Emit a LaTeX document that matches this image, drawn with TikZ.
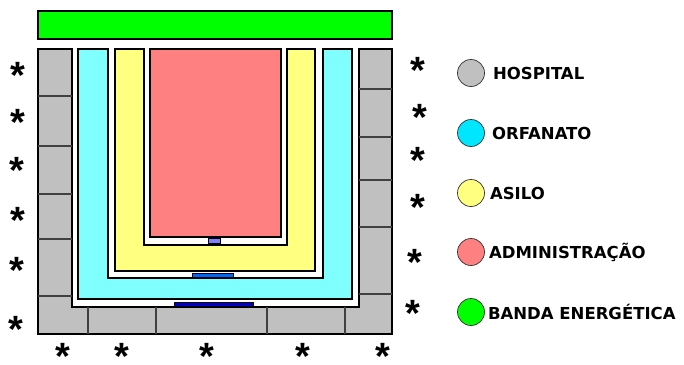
\documentclass[tikz,border=0pt]{standalone}
\usepackage{fontspec}
\newfontfamily\legfont{DejaVu Sans}
\newfontfamily\starfont{Liberation Sans}
\usetikzlibrary{positioning}
\definecolor{hospgray}{RGB}{192,192,192}
\definecolor{orfcyan}{RGB}{128,255,255}
\definecolor{dotcyan}{RGB}{0,230,255}
\definecolor{asiyellow}{RGB}{255,255,128}
\definecolor{admred}{RGB}{255,128,128}
\definecolor{bandgreen}{RGB}{0,255,0}
\definecolor{doorlav}{RGB}{128,128,255}
\definecolor{doormid}{RGB}{0,102,255}
\definecolor{doordark}{RGB}{0,0,204}
\tikzset{
  zone/.style={draw=black,line width=2.5pt,line join=miter},
  sep/.style={draw=black!75,line width=1.2pt},
  door/.style={draw=black,line width=0.8pt},
  legdot/.style={circle,draw=black!80,line width=0.7pt,minimum size=27pt,inner sep=0pt},
  leglabel/.style={font=\legfont\bfseries\fontsize{16.5}{18}\selectfont,inner sep=0pt,anchor=west},
  starmark/.style={font=\starfont\bfseries\fontsize{38}{38}\selectfont,inner sep=0pt,anchor=base}
}

\begin{document}
\begin{tikzpicture}[x=1pt,y=-1pt]
\useasboundingbox (0,0) rectangle (684,364);

% Energy band on top
\path[zone,fill=bandgreen] (38,11) rectangle (392,39);

% Hospital (outer U)
\path[zone,fill=hospgray] (38,49) -- (38,334) -- (392,334) -- (392,49) -- (359,49)
  -- (359,307) -- (72,307) -- (72,49) -- cycle;
\foreach \y in {96,146,194,239,296}
  \draw[sep] (38,\y) -- (72,\y);
\foreach \x in {88,156,267,345}
  \draw[sep] (\x,307) -- (\x,334);
\foreach \y in {89,137,180,227,294}
  \draw[sep] (359,\y) -- (392,\y);

% Orphanage
\path[zone,fill=orfcyan] (78,49) -- (78,299) -- (352,299) -- (352,49) -- (323,49)
  -- (323,278) -- (108,278) -- (108,49) -- cycle;

% Asylum
\path[zone,fill=asiyellow] (115,49) -- (115,271) -- (315,271) -- (315,49) -- (287,49)
  -- (287,245) -- (144,245) -- (144,49) -- cycle;

% Administration
\path[zone,fill=admred] (150,49) rectangle (281,237);

% Doors between the zones
\path[door,fill=doorlav] (208,238) rectangle (220,243);
\path[door,fill=doormid] (192,273) rectangle (233,277);
\path[door,fill=doordark] (174,302) rectangle (253,306);

% Stars round the plan
\foreach \x/\y [count=\i] in {18/73,18/120,17/168,18/218,17/268,16/327,
  63/354,122/354,207/354,303/354,383/354,
  418/68,420/115,418/158,418/205,415/260,413/311}
  \node[starmark] (star\i) at (\x,\y+15) {*};

% Legend
\node[legdot,fill=hospgray] (dothosp) at (471,73) {};
\node[legdot,fill=dotcyan] (dotorf) at (471,133) {};
\node[legdot,fill=asiyellow] (dotasi) at (471,193) {};
\node[legdot,fill=admred] (dotadm) at (471,252) {};
\node[legdot,fill=bandgreen] (dotband) at (471,312) {};

\node[leglabel,right=8pt of dothosp] (labhosp) {HOSPITAL};
\node[leglabel,right=7pt of dotorf] (laborf) {ORFANATO};
\node[leglabel,right=5pt of dotasi] (labasi) {ASILO};
\node[leglabel,right=4pt of dotadm] (labadm) {ADMINISTRAÇÃO};
\node[leglabel,right=3pt of dotband] (labband) {BANDA ENERGÉTICA};

\end{tikzpicture}
\end{document}
